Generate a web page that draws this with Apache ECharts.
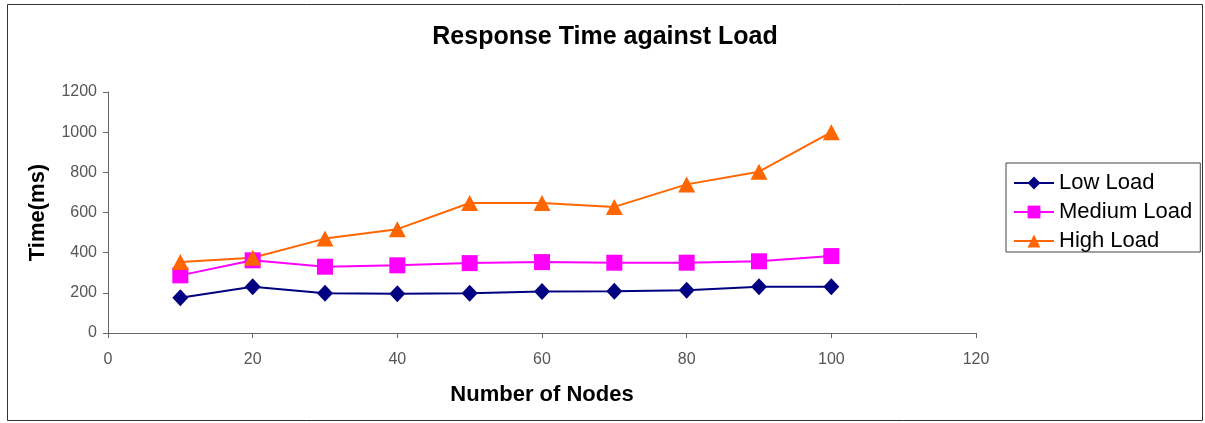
<!DOCTYPE html>
<html>
<head>
<meta charset="utf-8">
<script src="https://cdn.jsdelivr.net/npm/echarts@6/dist/echarts.min.js"></script>
<style>html,body{margin:0;padding:0;background:#fff;}#c{width:1205px;height:423px;}</style>
</head>
<body>
<div id="c"></div>
<script>
const nodes = [10, 20, 30, 40, 50, 60, 70, 80, 90, 100];
const lowLoad = [175, 230, 198, 195, 198, 207, 208, 213, 230, 230];
const mediumLoad = [287, 362, 330, 337, 348, 353, 350, 350, 357, 383];
const highLoad = [353, 375, 470, 517, 647, 647, 628, 740, 803, 1000];
const seriesNames = ['Low Load', 'Medium Load', 'High Load'];

const pairs = (ys) => nodes.map((x, i) => [x, ys[i]]);
const font = 'Liberation Sans, Arial, sans-serif';

const chart = echarts.init(document.getElementById('c'), null, {renderer: 'canvas'});
chart.setOption({
  animation: false,
  backgroundColor: '#fff',
  title: {
    text: 'Response Time against Load',
    left: 605, top: 25, textAlign: 'center', padding: 0,
    textStyle: {fontFamily: font, fontSize: 25, fontWeight: 'bold', color: '#000'}
  },
  graphic: [{
    type: 'rect', shape: {x: 7.5, y: 4.5, width: 1195, height: 416},
    style: {fill: 'none', stroke: '#333', lineWidth: 1}, silent: true, z: -1
  }],
  legend: {
    orient: 'vertical', left: 1006, top: 163,
    padding: [9, 8, 0, 7],
    borderColor: '#444', borderWidth: 1,
    itemWidth: 40, itemHeight: 16, itemGap: 7,
    textStyle: {fontFamily: font, fontSize: 22, color: '#000'},
    data: seriesNames
  },
  grid: {left: 108, right: 229, top: 92, bottom: 90, containLabel: false},
  xAxis: {
    type: 'value', min: 0, max: 120, interval: 20,
    name: 'Number of Nodes', nameLocation: 'middle', nameGap: 51,
    nameTextStyle: {fontFamily: font, fontSize: 22, fontWeight: 'bold', color: '#000'},
    axisLine: {lineStyle: {color: '#666', width: 1}},
    axisTick: {show: true, length: 5, inside: false, lineStyle: {color: '#666'}},
    axisLabel: {fontFamily: font, fontSize: 16, color: '#555', margin: 19},
    splitLine: {show: false}
  },
  yAxis: {
    type: 'value', min: 0, max: 1200, interval: 200,
    name: 'Time(ms)', nameLocation: 'middle', nameGap: 59, nameRotate: 90,
    nameTextStyle: {fontFamily: font, fontSize: 22, fontWeight: 'bold', color: '#000'},
    axisLine: {show: true, lineStyle: {color: '#666', width: 1}},
    axisTick: {show: true, length: 5, lineStyle: {color: '#666'}},
    axisLabel: {fontFamily: font, fontSize: 16, color: '#555', margin: 11,
                formatter: (v) => String(v)},
    splitLine: {show: false}
  },
  series: [
    {name: seriesNames[0], type: 'line', data: pairs(lowLoad), symbol: 'diamond', symbolSize: [16, 17],
     itemStyle: {color: '#000080'}, lineStyle: {color: '#000080', width: 2}},
    {name: seriesNames[1], type: 'line', data: pairs(mediumLoad), symbol: 'rect', symbolSize: 16,
     itemStyle: {color: '#ff00ff'}, lineStyle: {color: '#ff00ff', width: 2}},
    {name: seriesNames[2], type: 'line', data: pairs(highLoad), symbol: 'triangle', symbolSize: [17, 16],
     itemStyle: {color: '#ff6600'}, lineStyle: {color: '#ff6600', width: 2}}
  ]
});
</script>
</body>
</html>
